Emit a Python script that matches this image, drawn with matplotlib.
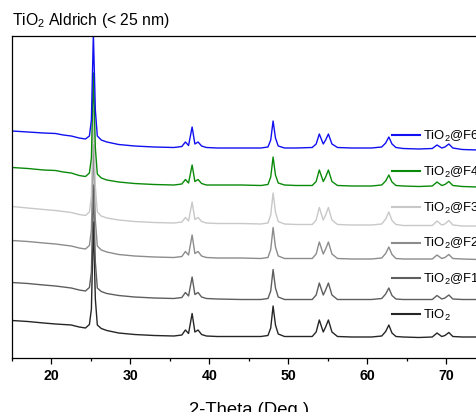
import matplotlib
matplotlib.use("Agg")
import matplotlib.pyplot as plt

plt.rcParams['font.family'] = ['Liberation Sans', 'DejaVu Sans']
plt.rcParams['mathtext.default'] = 'regular'

# 2-theta sample positions (deg)
two_theta = [15, 17, 19, 20.5, 21.5, 22.5, 23.5, 24.3, 24.8, 25.05, 25.3, 25.55, 25.8,
             26.3, 27, 28.5, 30.5, 33, 35.5, 36.5, 36.95, 37.35, 37.8, 38.15, 38.55,
             39.0, 39.6, 41, 44, 46.5, 47.4, 47.75, 48.05, 48.35, 48.7, 49.5, 51, 53.0,
             53.5, 53.9, 54.4, 54.7, 55.05, 55.5, 56.2, 58, 60.5, 61.8, 62.3, 62.7, 63.1,
             63.6, 64.5, 66.5, 68.2, 68.8, 69.4, 69.8, 70.3, 70.8, 72, 74, 75]

# intensities (a.u., stacked as in the figure)
tio2 = [37.5, 36.5, 35, 34, 33.5, 33, 31, 30, 33.5, 49, 136, 59, 33,
        29.5, 27.5, 25, 23.5, 22.5, 22, 23, 28, 24.5, 44.5, 26, 28,
        23.5, 22, 21.5, 21.5, 21.5, 22.5, 30, 52, 33, 24, 21.5, 21.5, 21.5,
        26, 38, 26, 31, 38, 26, 21.5, 21, 21, 22, 26.5, 33, 25,
        21.5, 21, 20.5, 21, 25, 21.5, 22.5, 25.5, 21.5, 21, 21, 21]
f1 = [75.5, 74.5, 73, 72, 71, 70, 68, 67, 70.5, 86, 173, 96, 70,
      66.5, 64.5, 62.5, 61, 60, 59.5, 60.5, 65.5, 62, 81, 63.5, 65.5,
      61, 59.5, 59, 58.5, 58.5, 59.5, 67, 88.5, 70, 61, 58.5, 58.5, 58.5,
      63, 75, 63, 68, 75, 63, 58.5, 58.5, 58.5, 59.5, 64, 70, 62.5,
      59, 58.5, 58.5, 58.5, 62.5, 59, 60, 63, 59, 58.5, 58.5, 58.5]
f2 = [117.5, 116.5, 115, 114, 113, 112, 110, 109, 112.5, 128, 213, 138, 112,
      108, 106, 103.5, 102, 101, 100.5, 101.5, 106.5, 103, 123, 104.5, 106.5,
      102, 100.5, 100, 100, 99.5, 100.5, 108.5, 130.5, 111, 102, 99.5, 99.5, 99.5,
      104, 116, 104, 109, 116, 104, 99.5, 99, 99, 100, 104.5, 111, 103.5,
      99.5, 99, 99, 99, 103, 99.5, 100.5, 103.5, 99.5, 99, 98.5, 98.5]
f3 = [151.5, 150, 148.5, 147.5, 146.5, 145.5, 143.5, 142.5, 146, 162, 248, 172, 146,
      142, 140, 138, 136.5, 135.5, 135, 136, 140.5, 137, 156, 138.5, 140.5,
      136.5, 135, 134.5, 134.5, 134, 135, 143, 165, 146, 136.5, 134, 133.5, 133.5,
      138, 150.5, 138, 143, 150.5, 138, 133.5, 133, 133, 134, 139, 146, 137.5,
      133.5, 132.5, 132.5, 132.5, 137, 133, 134, 137.5, 133, 132, 132, 132]
f4 = [190.5, 189.5, 188, 187.5, 186, 185, 182.5, 181.5, 185, 200, 285, 210, 184,
      180, 178, 176, 174.5, 173.5, 173, 174, 178.5, 175, 193, 176.5, 178.5,
      174.5, 173, 173, 173, 172.5, 173.5, 181, 201, 183, 175, 173, 172.5, 172.5,
      176.5, 188, 176.5, 181, 188, 176.5, 172.5, 172, 172, 173, 177, 183, 176,
      172.5, 172, 171.5, 172, 176, 172.5, 173.5, 176.5, 172.5, 171.5, 171, 171]
f6 = [227, 226, 225, 224.5, 223, 222, 220, 219, 222, 238, 324, 248, 222,
      218, 216, 213.5, 212, 211, 210.5, 211.5, 216, 212.5, 231, 214, 216,
      212, 210.5, 210, 210, 210, 211, 218, 237, 220, 212, 210, 210, 210.5,
      214, 224, 214, 218, 224, 214, 210.5, 210, 210, 211, 215, 221, 214,
      210.5, 209.5, 209, 209.5, 213, 210, 211, 214, 210, 208.5, 208, 208]

labels = ['TiO$_2$', 'TiO$_2$@F1', 'TiO$_2$@F2', 'TiO$_2$@F3', 'TiO$_2$@F4', 'TiO$_2$@F6']
series = [tio2, f1, f2, f3, f4, f6]
colors = ['#262626', '#5e5e5e', '#8c8c8c', '#c8c8c8', '#0a8a0a', '#1010f0']

W, H = 476, 412
fig = plt.figure(figsize=(W / 100, H / 100), dpi=100)
ax = fig.add_axes([12 / W, (H - 358) / H, (486 - 12) / W, 322 / H])

handles = []
for y, c, lab in zip(series, colors, labels):
    h, = ax.plot(two_theta, y, color=c, lw=1.0, label=lab)
    handles.append(h)

ax.set_xlim(15, 75)
ax.set_ylim(0, 322)
ax.set_yticks([])
ax.spines['right'].set_visible(False)
for s in ['left', 'top', 'bottom']:
    ax.spines[s].set_linewidth(0.9)

ax.set_xticks([20, 30, 40, 50, 60, 70])
ax.set_xticks([15, 25, 35, 45, 55, 65, 75], minor=True)
ax.tick_params(axis='x', which='major', direction='out', length=4.3, width=0.9, pad=3.5,
               labelsize=10.2)
ax.tick_params(axis='x', which='minor', direction='out', length=2.3, width=0.9)
for t in ax.get_xticklabels():
    t.set_fontweight('bold')

ax.set_xlabel('2-Theta (Deg.)', fontsize=13.3, labelpad=13.5)

leg = fig.legend(handles[::-1], labels[::-1], loc='upper left',
                 bbox_to_anchor=(391.5 / W, 1 - 129 / H), frameon=False,
                 fontsize=9.4, handlelength=2.15, handletextpad=0.25,
                 labelspacing=1.58, borderpad=0, borderaxespad=0)
for lh in leg.get_lines():
    lh.set_linewidth(1.5)

fig.text(12 / W, 1 - 25 / H, 'TiO$_2$ Aldrich (< 25 nm)', fontsize=11.3,
         ha='left', va='baseline')

fig.savefig('out.png', dpi=100)
